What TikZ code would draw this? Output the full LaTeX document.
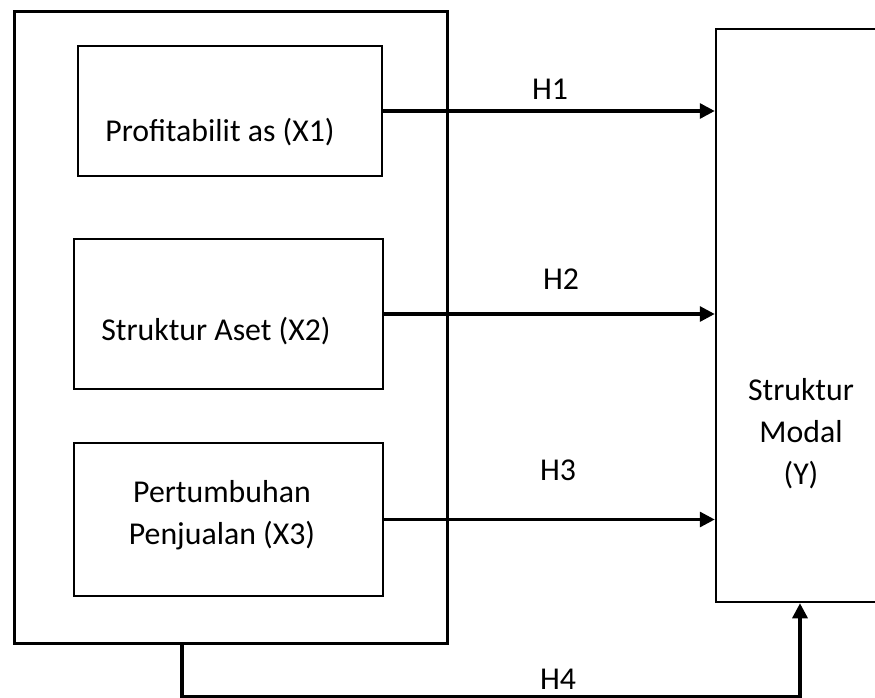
\documentclass[tikz,border=0pt]{standalone}
\usepackage{fontspec}
\setmainfont{Carlito}
\usetikzlibrary{arrows.meta}
\begin{document}
\begin{tikzpicture}[x=1pt,y=-1pt,
  box/.style={draw,line width=2pt,rectangle,inner sep=0pt},
  bigbox/.style={draw,line width=3pt,rectangle,inner sep=0pt},
  txt/.style={anchor=base,inner sep=0pt,font=\fontsize{31.8}{43}\selectfont},
  conn/.style={line width=3.2pt,-{Triangle[length=15pt,width=15pt]}}]
\useasboundingbox (0,0) rectangle (875,698);
% outer group box
\node[bigbox,minimum width=433pt,minimum height=631pt] (outer) at (230.5,327.5) {};
% inner boxes
\node[box,minimum width=304pt,minimum height=130pt] (x1) at (230,111) {};
\node[box,minimum width=309pt,minimum height=150pt] (x2) at (228.5,314) {};
\node[box,minimum width=309pt,minimum height=153pt] (x3) at (228.5,519.5) {};
% dependent box
\node[box,line width=2.5pt,minimum width=170pt,minimum height=573pt] (y) at (801,315.5) {};
% texts
\node[txt] (t1) at (220,142) {Profitabilit as (X1)};
\node[txt] (t2) at (216,340) {Struktur Aset (X2)};
\node[txt] (t3a) at (222,502) {Pertumbuhan};
\node[txt] (t3b) at (222,544) {Penjualan (X3)};
\node[txt] (ty1) at (801,400) {Struktur};
\node[txt] (ty2) at (801,442) {Modal};
\node[txt] (ty3) at (801,484) {(Y)};
% labels
\node[txt] (h1) at (550,100) {H1};
\node[txt] (h2) at (561,289) {H2};
\node[txt] (h3) at (558,480) {H3};
\node[txt] (h4) at (558,689) {H4};
% connectors
\draw[conn] (x1.east) -- (x1.east -| y.west);
\draw[conn] (x2.east) -- (x2.east -| y.west);
\draw[conn] (x3.east) -- (x3.east -| y.west);
\coordinate (c1) at (182,697);
\coordinate (c2) at (800,697);
\draw[conn] (outer.south -| c1) -- (c1) -- (c2) -- (y.south -| c2);
\end{tikzpicture}
\end{document}
